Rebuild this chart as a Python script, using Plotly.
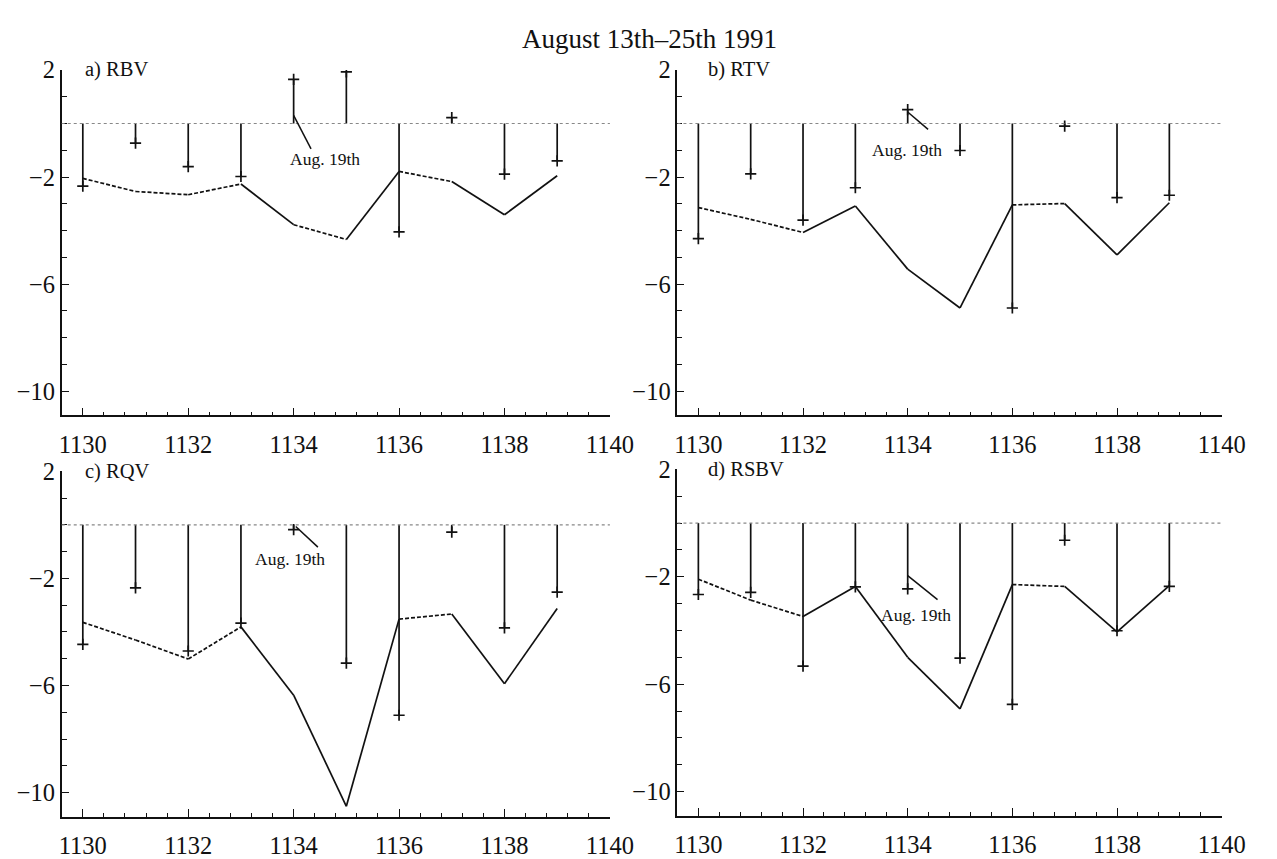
import plotly.graph_objects as go
from plotly.subplots import make_subplots

# Years (x axis) shared by all four panels
years = [1130, 1131, 1132, 1133, 1134, 1135, 1136, 1137, 1138, 1139]

# a) RBV
rbv_stem = [-2.34, -0.73, -1.61, -1.98, 1.65, 1.93, -4.05, 0.22, -1.89, -1.40]
rbv_line = [-2.05, -2.54, -2.66, -2.26, -3.78, -4.33, -1.79, -2.17, -3.41, -1.95]
# b) RTV
rtv_stem = [-4.30, -1.88, -3.61, -2.40, 0.52, -1.01, -6.89, -0.10, -2.77, -2.68]
rtv_line = [-3.14, -3.58, -4.07, -3.08, -5.44, -6.89, -3.04, -2.99, -4.91, -2.96]
# c) RQV
rqv_stem = [-4.46, -2.35, -4.71, -3.67, -0.18, -5.16, -7.11, -0.27, -3.85, -2.51]
rqv_line = [-3.64, -4.30, -5.01, -3.81, -6.36, -10.51, -3.52, -3.33, -5.93, -3.12]
# d) RSBV
rsbv_stem = [-2.66, -2.58, -5.33, -2.38, -2.45, -5.03, -6.75, -0.64, -4.01, -2.36]
rsbv_line = [-2.09, -2.87, -3.48, -2.36, -5.00, -6.92, -2.29, -2.36, -4.05, -2.33]

panel_labels = ["a) RBV", "b) RTV", "c) RQV", "d) RSBV"]
x_tick_vals = [1130, 1132, 1134, 1136, 1138, 1140]
y_tick_vals = [2, -2, -6, -10]
title_text = "August 13th\u201325th 1991"
note_text = "Aug. 19th"

panels = [
    dict(stem=rbv_stem, line=rbv_line, label=panel_labels[0], row=1, col=1,
         dashed_from={1130, 1131, 1132, 1134, 1136},
         note=(1134.0, 0.30, 1134.33, -0.95, 1134.6, -1.32)),
    dict(stem=rtv_stem, line=rtv_line, label=panel_labels[1], row=1, col=2,
         dashed_from={1130, 1131, 1136},
         note=(1134.0, 0.43, 1134.39, -0.22, 1133.98, -1.0)),
    dict(stem=rqv_stem, line=rqv_line, label=panel_labels[2], row=2, col=1,
         dashed_from={1130, 1131, 1132, 1136},
         note=(1134.04, -0.06, 1134.46, -0.83, 1133.94, -1.26)),
    dict(stem=rsbv_stem, line=rsbv_line, label=panel_labels[3], row=2, col=2,
         dashed_from={1130, 1131, 1136},
         note=(1134.0, -1.96, 1134.57, -2.85, 1134.16, -3.44)),
]

W, H = 1277, 859
SERIF = "Liberation Serif, Times New Roman, serif"
INK = "#111111"

# plot-area boxes in pixels: (left, right, top, bottom)
boxes = {
    (1, 1): (60, 620, 58, 410),
    (1, 2): (689, 1245, 58, 410),
    (2, 1): (60, 620, 467, 819),
    (2, 2): (689, 1245, 465, 818),
}

fig = make_subplots(rows=2, cols=2)

for p in panels:
    r, c = p["row"], p["col"]
    xs_stem, ys_stem = [], []
    for x, v in zip(years, p["stem"]):
        xs_stem += [x, x, None]
        ys_stem += [0, v, None]
    # vertical stems from zero
    fig.add_trace(go.Scatter(x=xs_stem, y=ys_stem, mode="lines",
                             line=dict(color=INK, width=1.7),
                             hoverinfo="skip"), row=r, col=c)
    # cross tips at stem ends
    fig.add_trace(go.Scatter(x=years, y=p["stem"], mode="markers",
                             marker=dict(symbol="cross-thin", size=8,
                                         line=dict(color=INK, width=1.7)),
                             hoverinfo="skip"), row=r, col=c)
    # connecting line, split into dashed and solid segments
    xs_d, ys_d, xs_s, ys_s = [], [], [], []
    for i in range(len(years) - 1):
        seg_x = [years[i], years[i + 1], None]
        seg_y = [p["line"][i], p["line"][i + 1], None]
        if years[i] in p["dashed_from"]:
            xs_d += seg_x
            ys_d += seg_y
        else:
            xs_s += seg_x
            ys_s += seg_y
    fig.add_trace(go.Scatter(x=xs_d, y=ys_d, mode="lines",
                             line=dict(color=INK, width=1.7, dash="4px,2px"),
                             hoverinfo="skip"), row=r, col=c)
    fig.add_trace(go.Scatter(x=xs_s, y=ys_s, mode="lines",
                             line=dict(color=INK, width=1.7),
                             hoverinfo="skip"), row=r, col=c)

    # dotted zero reference
    fig.add_hline(y=0, line=dict(color="#888888", width=1.2, dash="dot"),
                  row=r, col=c)

    idx = (r - 1) * 2 + c
    xr = "x" if idx == 1 else f"x{idx}"
    yr = "y" if idx == 1 else f"y{idx}"

    # panel label
    fig.add_annotation(x=1130.0 if c == 1 else 1130.15, y=2.0, xref=xr, yref=yr,
                       text=p["label"], showarrow=False, xanchor="left",
                       yanchor="middle",
                       font=dict(family=SERIF, size=20.5, color=INK))
    # Aug. 19th pointer
    tx, ty, ex, ey, lx, ly = p["note"]
    fig.add_shape(type="line", x0=tx, y0=ty, x1=ex, y1=ey, xref=xr, yref=yr,
                  line=dict(color=INK, width=1.5))
    fig.add_annotation(x=lx, y=ly, xref=xr, yref=yr, text=note_text,
                       showarrow=False, xanchor="center", yanchor="middle",
                       font=dict(family=SERIF, size=17.5, color=INK))

    left, right, top, bottom = boxes[(r, c)]
    fig.update_xaxes(domain=[left / W, right / W], range=[1129.6, 1140],
                     tickvals=x_tick_vals, ticks="inside", ticklen=8,
                     tickwidth=1.4, tickcolor=INK,
                     minor=dict(ticks="inside", ticklen=4, tickwidth=1.2,
                                tickcolor=INK, tick0=1130, dtick=0.4),
                     showline=True, linecolor=INK, linewidth=1.7,
                     showgrid=False, zeroline=False, ticklabelstandoff=6,
                     tickfont=dict(family=SERIF, size=24.5, color=INK),
                     row=r, col=c)
    fig.update_yaxes(domain=[1 - bottom / H, 1 - top / H], range=[-10.9, 2],
                     tickvals=y_tick_vals, ticks="inside", ticklen=7,
                     tickwidth=1.4, tickcolor=INK,
                     minor=dict(ticks="inside", ticklen=5, tickwidth=1.2,
                                tickcolor=INK, tick0=2, dtick=1),
                     showline=True, linecolor=INK, linewidth=1.7,
                     showgrid=False, zeroline=False, ticklabelstandoff=0,
                     tickfont=dict(family=SERIF, size=24.5, color=INK),
                     row=r, col=c)

fig.add_annotation(x=660 / W, y=1 - 27 / H, xref="paper", yref="paper",
                   text=title_text, showarrow=False, xanchor="center",
                   yanchor="middle", font=dict(family=SERIF, size=27, color=INK))

fig.update_layout(width=W, height=H, margin=dict(l=0, r=0, t=0, b=0),
                  paper_bgcolor="white", plot_bgcolor="white",
                  showlegend=False)

fig.write_html("out.html")
